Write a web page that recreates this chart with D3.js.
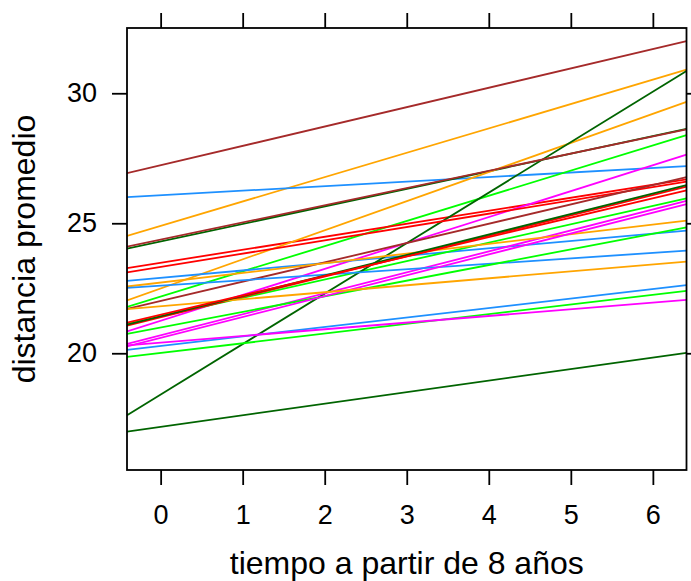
<!DOCTYPE html>
<html lang="es">
  <head>
    <meta charset="utf-8">
    <title>distancia promedio</title>
    <style>
      body { margin: 0; background: #fff; }
      svg { display: block; }
      text { font-family: 'Liberation Sans', Arial, sans-serif; fill: #000; }
      .tick text { font-size: 27px; }
      .axis-title { font-size: 32px; }
    </style>
  </head>
  <body>
    <div id="viz"></div>
    <script src="https://d3js.org/d3.v7.min.js"></script>
    <script>
      // fitted line per subject: distance = intercept + slope * (age - 8)
      const subjects = ["S01","S02","S03","S04","S05","S06","S07",
                        "S08","S09","S10","S11","S12","S13","S14",
                        "S15","S16","S17","S18","S19","S20","S21",
                        "S22","S23","S24","S25","S26","S27"];
      const intercepts = [24.90, 26.08, 22.18, 24.30, 23.48, 21.25, 27.23,
                          22.49, 22.90, 21.42, 18.41, 23.32, 20.69, 22.01,
                          22.72, 22.60, 20.99, 17.17, 21.38, 20.59, 24.37,
                          21.81, 20.28, 20.01, 21.42, 21.48, 20.41];
      const slopes = [0.937, 0.174, 0.969, 0.675, 0.500, 0.997, 0.745,
                      1.120, 0.284, 0.708, 1.942, 0.512, 0.807, 0.743,
                      0.371, 0.210, 0.601, 0.444, 0.784, 0.803, 0.662,
                      0.268, 0.365, 0.373, 0.787, 0.747, 0.256];
      const xTicks = [0, 1, 2, 3, 4, 5, 6];
      const yTicks = [20, 25, 30];
      const palette = ["#FFA500", "#1E90FF", "#00FF00", "#006400", "#FF0000", "#FF00FF", "#A52A2A"];

      const W = 691, H = 581;
      const panel = { left: 127, right: 686.5, top: 28, bottom: 470 };
      const tickLen = 15;

      const data = subjects.map((s, i) => ({ id: s, a: intercepts[i], b: slopes[i], k: i % palette.length }));

      const x = d3.scaleLinear().domain([-0.41, 6.41]).range([panel.left, panel.right]);
      const y = d3.scaleLinear().domain([15.51, 32.51]).range([panel.bottom, panel.top]);
      const color = d3.scaleOrdinal().domain(d3.range(palette.length)).range(palette);

      const svg = d3.select("#viz").append("svg")
        .attr("width", W)
        .attr("height", H);

      svg.append("clipPath").attr("id", "clip")
        .append("rect")
        .attr("x", panel.left).attr("y", panel.top)
        .attr("width", panel.right - panel.left)
        .attr("height", panel.bottom - panel.top);

      const [x0, x1] = x.domain();
      const line = d3.line().x(p => x(p[0])).y(p => y(p[1]));

      svg.append("g")
        .attr("clip-path", "url(#clip)")
        .selectAll("path")
        .data(data)
        .join("path")
        .attr("d", d => line([[x0, d.a + d.b * x0], [x1, d.a + d.b * x1]]))
        .attr("fill", "none")
        .attr("stroke", d => color(d.k))
        .attr("stroke-width", 1.8);

      const styleAxis = g => {
        g.attr("font-family", null).attr("font-size", null);
        g.select(".domain").remove();
        g.selectAll(".tick line").attr("stroke", "#000").attr("stroke-width", 1.8);
      };

      svg.append("g")
        .attr("transform", `translate(0,${panel.bottom})`)
        .call(d3.axisBottom(x).tickValues(xTicks).tickSize(tickLen).tickPadding(20).tickFormat(d3.format("d")))
        .call(styleAxis);

      svg.append("g")
        .attr("transform", `translate(0,${panel.top})`)
        .call(d3.axisTop(x).tickValues(xTicks).tickSize(tickLen).tickFormat(""))
        .call(styleAxis);

      svg.append("g")
        .attr("transform", `translate(${panel.left},0)`)
        .call(d3.axisLeft(y).tickValues(yTicks).tickSize(tickLen).tickPadding(15).tickFormat(d3.format("d")))
        .call(styleAxis);

      svg.append("g")
        .attr("transform", `translate(${panel.right},0)`)
        .call(d3.axisRight(y).tickValues(yTicks).tickSize(tickLen).tickFormat(""))
        .call(styleAxis);

      svg.append("rect")
        .attr("x", panel.left).attr("y", panel.top)
        .attr("width", panel.right - panel.left)
        .attr("height", panel.bottom - panel.top)
        .attr("fill", "none")
        .attr("stroke", "#000")
        .attr("stroke-width", 1.8);

      svg.append("text")
        .attr("class", "axis-title")
        .attr("x", (panel.left + panel.right) / 2)
        .attr("y", 574)
        .attr("text-anchor", "middle")
        .text("tiempo a partir de 8 años");

      svg.append("text")
        .attr("class", "axis-title")
        .attr("transform", `translate(35,${(panel.top + panel.bottom) / 2}) rotate(-90)`)
        .attr("text-anchor", "middle")
        .text("distancia promedio");
    </script>
  </body>
</html>
